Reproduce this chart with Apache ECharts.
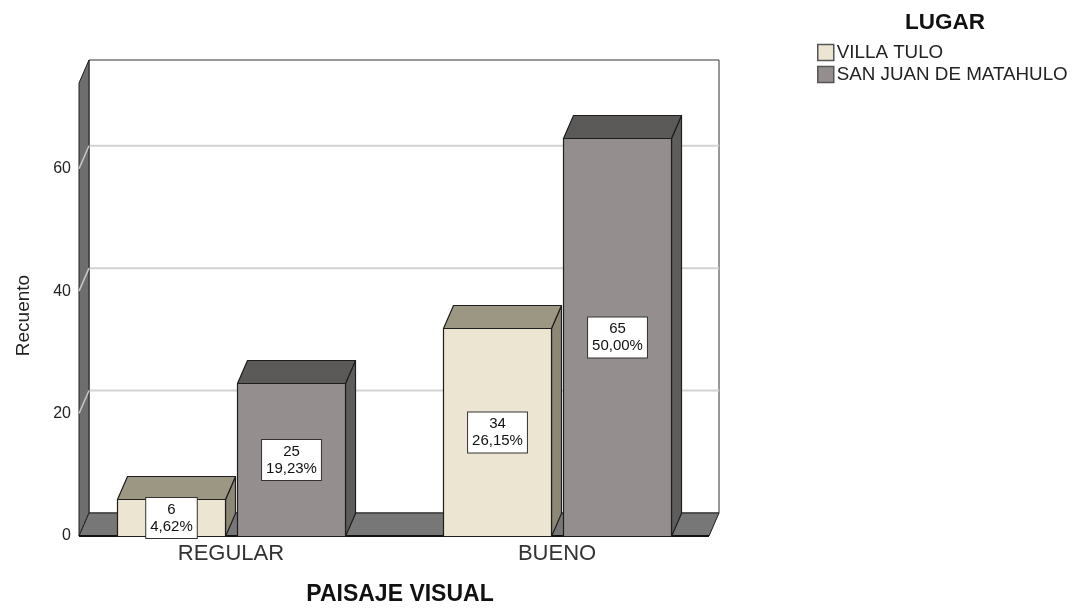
<!DOCTYPE html>
<html><head><meta charset="utf-8">
<script src="https://cdn.jsdelivr.net/npm/echarts@6/dist/echarts.min.js"></script>
<style>html,body{margin:0;padding:0;background:#fff}#c{width:1075px;height:611px}</style>
</head><body><div id="c"></div>
<script>
// ---- data ----
const categories = ['REGULAR', 'BUENO'];
const seriesNames = ['VILLA TULO', 'SAN JUAN DE MATAHULO'];
const villaTulo = [6, 34];
const sanJuan = [25, 65];
const villaTuloPct = ['4,62%', '26,15%'];
const sanJuanPct = ['19,23%', '50,00%'];
const yTicks = [0, 20, 40, 60];
const yMax = 74;

// ---- layout / style ----
const X_MIN = -0.466, X_MAX = 1.466;
const BAR_W = 0.331, OFFSET = 0.184;
const DX = 10, DY = -23;
const FONT = "'Liberation Sans', Arial, sans-serif";
const LINE = '#1e1e1e';

function frameRenderer(params, api) {
  const fl = api.coord([X_MIN, 0]);
  const fr = api.coord([X_MAX, 0]);
  const tl = api.coord([X_MIN, yMax]);
  const ch = [];
  ch.push({type: 'rect', shape: {x: fl[0] + DX, y: tl[1] + DY, width: fr[0] - fl[0], height: fl[1] - tl[1]},
    style: {fill: '#fff', stroke: '#333', lineWidth: 1}});
  yTicks.forEach(function (t) {
    if (t === 0) return;
    const p = api.coord([X_MIN, t]);
    ch.push({type: 'line', shape: {x1: p[0] + DX, y1: p[1] + DY, x2: fr[0] + DX, y2: p[1] + DY},
      style: {stroke: '#d2d2d2', lineWidth: 2}});
  });
  ch.push({type: 'polygon', shape: {points: [[fl[0], fl[1]], [tl[0], tl[1]], [tl[0] + DX, tl[1] + DY], [fl[0] + DX, fl[1] + DY]]},
    style: {fill: '#6e6e6e', stroke: LINE, lineWidth: 1}});
  yTicks.forEach(function (t) {
    if (t === 0) return;
    const p = api.coord([X_MIN, t]);
    ch.push({type: 'line', shape: {x1: p[0], y1: p[1], x2: p[0] + DX, y2: p[1] + DY},
      style: {stroke: '#c8c8c8', lineWidth: 1.5}});
  });
  ch.push({type: 'line', shape: {x1: fl[0], y1: fl[1], x2: fl[0] + DX, y2: fl[1] + DY},
    style: {stroke: '#9a9a9a', lineWidth: 1, lineDash: [2, 2]}});
  ch.push({type: 'polygon', shape: {points: [[fl[0], fl[1]], [fr[0], fr[1]], [fr[0] + DX, fr[1] + DY], [fl[0] + DX, fl[1] + DY]]},
    style: {fill: '#777777', stroke: LINE, lineWidth: 1}});
  ch.push({type: 'line', shape: {x1: fl[0], y1: fl[1], x2: fr[0], y2: fr[1]},
    style: {stroke: '#111', lineWidth: 2}});
  return {type: 'group', children: ch};
}

function barRenderer(offset, colors, pcts) {
  return function (params, api) {
    const c = api.value(0), v = api.value(1);
    const p1 = api.coord([c + offset - BAR_W / 2, v]);
    const p0 = api.coord([c + offset + BAR_W / 2, 0]);
    const x1 = Math.round(p1[0]) + 0.5, yt = Math.round(p1[1]) + 0.5;
    const x2 = Math.round(p0[0]) + 0.5, y0 = Math.round(p0[1]) + 0.5;
    const ls = {stroke: LINE, lineWidth: 1.2, lineJoin: 'round'};
    return {type: 'group', children: [
      {type: 'polygon', shape: {points: [[x2, yt], [x2 + DX, yt + DY], [x2 + DX, y0 + DY], [x2, y0]]},
        style: Object.assign({fill: colors.side}, ls)},
      {type: 'polygon', shape: {points: [[x1, yt], [x2, yt], [x2 + DX, yt + DY], [x1 + DX, yt + DY]]},
        style: Object.assign({fill: colors.top}, ls)},
      {type: 'rect', shape: {x: x1, y: yt, width: x2 - x1, height: y0 - yt},
        style: Object.assign({fill: colors.front}, ls)},
      {type: 'text', x: (x1 + x2) / 2, y: (yt + y0) / 2,
        style: {text: v + '\n' + pcts[params.dataIndex], align: 'center', verticalAlign: 'middle',
          font: '15px ' + FONT, fill: '#111', backgroundColor: '#fff', borderColor: '#333', borderWidth: 1,
          padding: [3, 4, 3, 4], lineHeight: 17}}
    ]};
  };
}

const vtColors = {front: '#ece5d1', top: '#9b9782', side: '#8c8875'};
const sjColors = {front: '#948f8e', top: '#5c5a59', side: '#5f5d5c'};

const chart = echarts.init(document.getElementById('c'), null, {renderer: 'canvas'});
chart.setOption({
  backgroundColor: '#fff',
  animation: false,
  title: {text: 'LUGAR', left: 940, top: 6, textAlign: 'center',
    textStyle: {fontFamily: FONT, fontSize: 22.5, fontWeight: 'bold', color: '#111'}},
  legend: {
    orient: 'vertical', left: 812, top: 38, itemWidth: 16, itemHeight: 16, itemGap: 3, icon: 'rect',
    textStyle: {fontFamily: FONT, fontSize: 18.8, color: '#222', padding: [0, 0, 0, -2]},
    data: [
      {name: seriesNames[0], itemStyle: {color: vtColors.front, borderColor: '#555', borderWidth: 1.5}},
      {name: seriesNames[1], itemStyle: {color: sjColors.front, borderColor: '#555', borderWidth: 1.5}}
    ]
  },
  grid: {left: 79, right: 366, top: 83, bottom: 75, containLabel: false},
  xAxis: {
    type: 'value', min: X_MIN, max: X_MAX,
    name: 'PAISAJE VISUAL', nameLocation: 'middle', nameGap: 47,
    nameTextStyle: {fontFamily: FONT, fontSize: 23, fontWeight: 'bold', color: '#111', padding: [0, 0, 0, 12]},
    axisLine: {show: false}, axisTick: {show: false}, splitLine: {show: false},
    axisLabel: {customValues: [0, 1], formatter: function (v) { return categories[Math.round(v)]; },
      margin: 7, fontFamily: FONT, fontSize: 22, color: '#333'}
  },
  yAxis: {
    type: 'value', min: 0, max: yMax, interval: 20,
    name: 'Recuento', nameLocation: 'middle', nameGap: 46,
    nameTextStyle: {fontFamily: FONT, fontSize: 19, color: '#222', padding: [0, 12, 0, 0]},
    axisLine: {show: false}, axisTick: {show: false}, splitLine: {show: false},
    axisLabel: {showMaxLabel: false, margin: 8, fontFamily: FONT, fontSize: 16, color: '#222'}
  },
  series: [
    {type: 'custom', name: 'frame', silent: true, renderItem: frameRenderer, data: [[0, 0]], z: 1},
    {type: 'custom', name: seriesNames[0], renderItem: barRenderer(-OFFSET, vtColors, villaTuloPct),
      itemStyle: {color: vtColors.front}, encode: {x: 0, y: 1},
      data: villaTulo.map(function (v, i) { return [i, v]; }), z: 2},
    {type: 'custom', name: seriesNames[1], renderItem: barRenderer(OFFSET, sjColors, sanJuanPct),
      itemStyle: {color: sjColors.front}, encode: {x: 0, y: 1},
      data: sanJuan.map(function (v, i) { return [i, v]; }), z: 2}
  ]
});
</script>
</body></html>
